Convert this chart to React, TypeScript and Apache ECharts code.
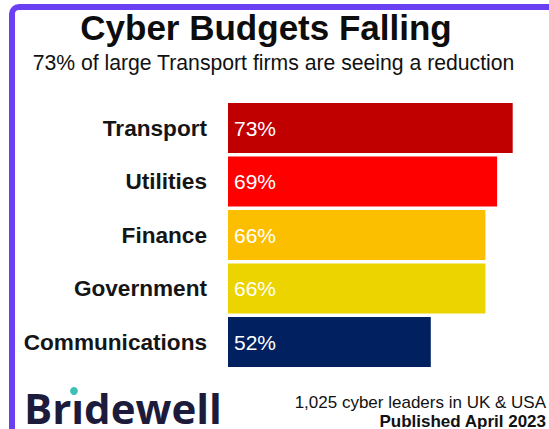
import React, { useEffect, useRef } from "react";
import * as echarts from "echarts";

const categories = ["Transport", "Utilities", "Finance", "Government", "Communications"];
const values = [73, 69, 66, 66, 52];
const barColors = ["#c00000", "#fe0000", "#fcbf00", "#ebd400", "#002060"];
const titleText = "Cyber Budgets Falling";
const subtitleText = "73% of large Transport firms are seeing a reduction";
const footLine1 = "1,025 cyber leaders in UK & USA";
const footLine2 = "Published April 2023";
const brandText = "Br\u0131dewell";

const FONT = "'Liberation Sans', Arial, sans-serif";

export default function App() {
  const ref = useRef<HTMLDivElement>(null);
  useEffect(() => {
    if (!ref.current) return;
    const chart = echarts.init(ref.current, null, { renderer: "svg" });
    chart.setOption({
      animation: false,
      backgroundColor: "#ffffff",
      grid: { left: 228, right: 9, top: 101.25, bottom: 60.25, containLabel: false },
      xAxis: { type: "value", min: 0, max: 80, show: false },
      yAxis: {
        type: "category",
        data: categories,
        inverse: true,
        axisLine: { show: false },
        axisTick: { show: false },
        axisLabel: {
          margin: 21,
          color: "#151515",
          fontFamily: FONT,
          fontWeight: "bold",
          fontSize: 22.6,
        },
      },
      series: [
        {
          type: "bar",
          barCategoryGap: "6.5%",
          data: values.map((v, i) => ({ value: v, itemStyle: { color: barColors[i] } })),
          label: {
            show: true,
            position: "insideLeft",
            distance: 6,
            color: "#ffffff",
            fontFamily: FONT,
            fontSize: 21,
            formatter: "{c}%",
          },
        },
      ],
      graphic: [
        {
          type: "rect",
          shape: { x: 12, y: 7, width: 600, height: 500, r: 7 },
          style: { fill: "none", stroke: "#6a40f2", lineWidth: 6 },
          z: 10,
        },
        {
          type: "text",
          x: 266,
          y: 27,
          style: {
            text: titleText,
            font: `bold 35px ${FONT}`,
            fill: "#0d0d0d",
            align: "center",
            verticalAlign: "middle",
          },
        },
        {
          type: "text",
          x: 273.5,
          y: 62,
          style: {
            text: subtitleText,
            font: `21.2px ${FONT}`,
            fill: "#111111",
            align: "center",
            verticalAlign: "middle",
          },
        },
        {
          type: "text",
          x: 546,
          y: 402,
          style: {
            text: footLine1,
            font: `17px ${FONT}`,
            fill: "#111111",
            align: "right",
            verticalAlign: "middle",
          },
        },
        {
          type: "text",
          x: 546,
          y: 421,
          style: {
            text: footLine2,
            font: `bold 17px ${FONT}`,
            fill: "#111111",
            align: "right",
            verticalAlign: "middle",
          },
        },
        {
          type: "text",
          x: 24,
          y: 407,
          style: {
            text: brandText,
            font: `bold 42px 'Open Sans', sans-serif`,
            fill: "#1d1b3b",
            align: "left",
            verticalAlign: "middle",
          },
        },
        {
          type: "circle",
          shape: { cx: 74, cy: 391, r: 3.9 },
          style: { fill: "#3cbfb4" },
        },
      ],
    });
    return () => chart.dispose();
  }, []);
  return (
    <div
      ref={ref}
      style={{ position: "fixed", left: 0, top: 0, width: 549, height: 429 }}
    />
  );
}
